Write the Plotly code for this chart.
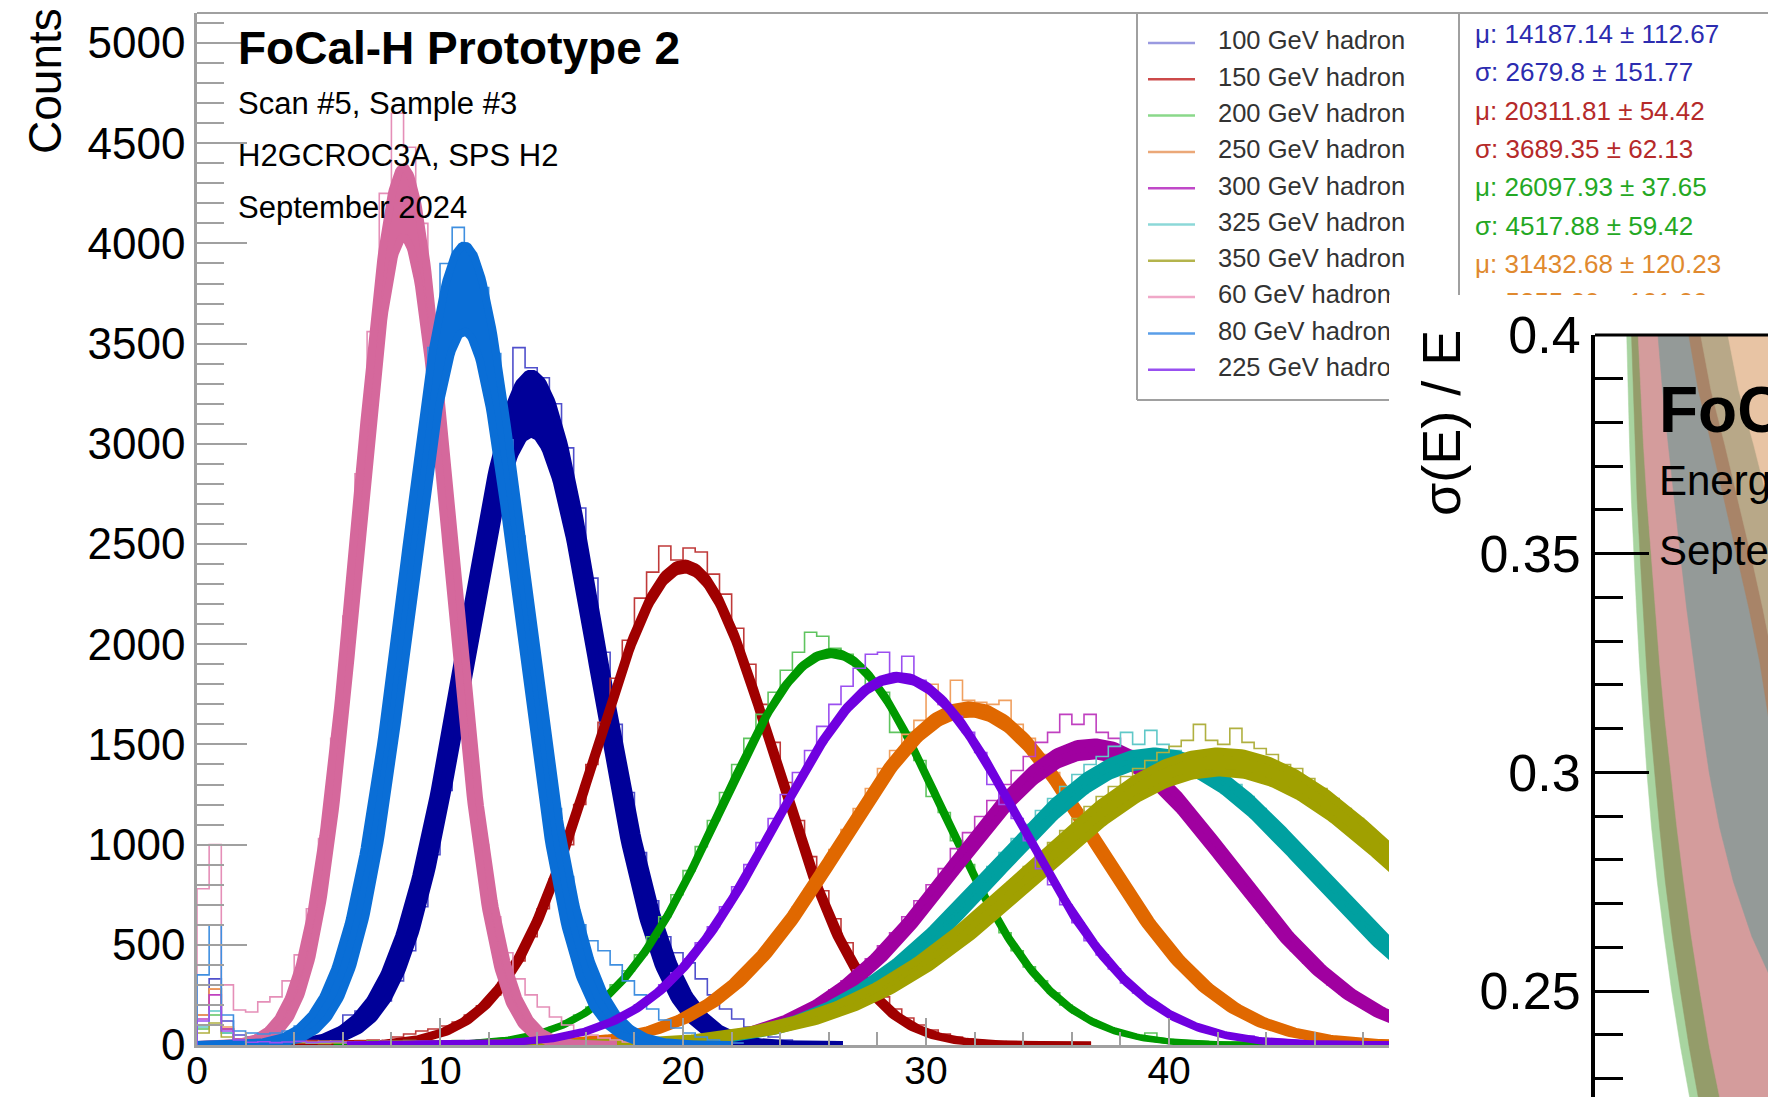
import math
import plotly.graph_objects as go

W, H = 1768, 1097


def px_x(p):
    return p / W


def px_y(p):
    return 1 - p / H


# ------------------------------------------------------------------ data
series_energy = ["100", "150", "200", "250", "300", "325", "350", "60", "80", "225"]
legend_labels = [e + " GeV hadron" for e in series_energy]

# Gaussian fit parameters (x axis in units of 10^3 ADC)
fit_mean = [13.75, 20.05, 26.10, 31.75, 36.85, 39.40, 42.10, 8.50, 11.00, 28.85]
fit_sigma_lo = [2.60, 3.64, 4.50, 5.12, 5.55, 6.40, 7.55, 1.80, 2.20, 4.98]
fit_sigma_hi = [2.85, 3.72, 4.55, 5.28, 5.72, 6.70, 7.90, 1.95, 2.45, 5.04]
fit_amp_lo = [3050, 2370, 1945, 1655, 1445, 1400, 1360, 4030, 3560, 1825]
fit_amp_hi = [3350, 2405, 1965, 1695, 1510, 1465, 1465, 4380, 3990, 1845]

hist_bin_width = 0.5
hist_100 = [200, 330, 120, 50, 40, 35, 30, 35, 30, 40, 45, 60, 150, 170, 160, 220, 320, 470, 690, 950,
            1270, 1620, 2000, 2380, 2760, 3080, 3480, 3380, 3330, 3200, 2980, 2680, 2330, 1960, 1600,
            1260, 960, 720, 540, 460, 410, 330, 250, 180, 130, 90, 60, 40, 25, 15, 10, 5]
hist_150 = [150, 280, 80, 30, 22, 18, 20, 15, 18, 22, 15, 20, 18, 22, 25, 20, 40, 55, 70, 80, 95, 115,
            150, 195, 250, 330, 420, 540, 680, 830, 1000, 1200, 1400, 1610, 1830, 2020, 2230, 2360, 2490,
            2420, 2480, 2460, 2350, 2250, 2080, 1900, 1700, 1510, 1310, 1120, 940, 770, 630, 510, 400,
            310, 240, 180, 135, 100, 75, 55, 40, 30, 20, 15, 12, 10, 8, 6, 5]
hist_200 = [80, 150, 60, 25, 15, 12, 18, 14, 16, 12, 15, 18, 14, 16, 20, 15, 18, 22, 17, 20, 18, 22, 20,
            24, 25, 30, 40, 50, 70, 90, 120, 150, 190, 240, 300, 370, 450, 540, 640, 750, 870, 990, 1120,
            1260, 1400, 1530, 1650, 1760, 1870, 1960, 2060, 2040, 1980, 1950, 1890, 1800, 1760, 1560,
            1560, 1420, 1240, 1160, 1020, 900, 770, 660, 560, 470, 390, 320, 260, 200, 160, 125, 95, 75,
            55, 45, 60, 25, 15, 10, 8, 5, 5]
hist_250 = [150, 280, 90, 30, 15, 13, 17, 12, 16, 14, 18, 12, 15, 17, 13, 16, 14, 18, 15, 12, 16, 14, 17,
            13, 15, 18, 14, 16, 15, 15, 18, 20, 25, 32, 40, 50, 63, 80, 100, 122, 150, 185, 225, 270, 325,
            385, 450, 525, 600, 690, 780, 875, 975, 1075, 1180, 1280, 1380, 1470, 1550, 1620, 1800, 1700,
            1820, 1720, 1710, 1700, 1720, 1600, 1530, 1450, 1360, 1270, 1170, 1070, 970, 870, 780, 690,
            600, 520, 450, 385, 325, 270, 225, 185, 150, 122, 100, 80, 63, 50, 40, 30, 22, 18, 14, 11]
hist_300 = [130, 250, 80, 30, 14, 12, 16, 13, 15, 11, 14, 17, 12, 15, 13, 16, 12, 14, 17, 13, 15, 12, 16,
            14, 13, 17, 12, 15, 14, 16, 13, 15, 12, 16, 14, 15, 15, 15, 18, 20, 25, 30, 38, 45, 58, 72, 90,
            110, 135, 160, 195, 230, 275, 320, 375, 430, 495, 560, 640, 720, 800, 880, 980, 1060, 1140,
            1220, 1300, 1370, 1440, 1510, 1560, 1650, 1600, 1650, 1560, 1530, 1470, 1420, 1370, 1310,
            1240, 1160, 1090, 1010, 930, 850, 770, 690, 610, 540, 470, 410, 355, 300, 255, 215, 180, 150]
hist_325 = [90, 170, 60, 25, 13, 11, 14, 12, 15, 10, 13, 14, 11, 12, 15, 13, 10, 14, 12, 13, 15, 11, 13,
            12, 14, 10, 13, 15, 12, 14, 11, 13, 12, 15, 13, 14, 15, 15, 18, 20, 24, 28, 34, 40, 50, 60, 70,
            85, 100, 120, 140, 165, 195, 225, 260, 300, 345, 390, 440, 495, 555, 615, 680, 750, 820, 890,
            960, 1030, 1100, 1170, 1230, 1290, 1350, 1400, 1440, 1490, 1560, 1500, 1570, 1500, 1470, 1450,
            1420, 1380, 1340, 1300, 1240, 1180, 1110, 1050, 980, 910, 840, 770, 710, 640, 580, 520]
hist_350 = [60, 110, 40, 20, 12, 10, 13, 9, 11, 12, 8, 13, 10, 12, 11, 9, 13, 10, 12, 11, 13, 9, 12, 10,
            14, 11, 12, 13, 10, 12, 14, 11, 13, 12, 14, 15, 16, 18, 22, 25, 30, 35, 40, 48, 56, 65, 76, 88,
            102, 118, 136, 156, 180, 205, 232, 262, 295, 330, 368, 410, 455, 500, 550, 600, 655, 710, 770,
            830, 890, 950, 1010, 1070, 1130, 1190, 1240, 1290, 1340, 1380, 1420, 1460, 1490, 1520, 1600,
            1520, 1500, 1580, 1510, 1480, 1450, 1400, 1380, 1330, 1280, 1230, 1180, 1130, 1070, 1010]
hist_60 = [780, 1000, 300, 175, 165, 215, 240, 320, 450, 680, 1030, 1530, 2140, 2850, 3560, 4250, 4650,
           4480, 4100, 3450, 2750, 2050, 1480, 1000, 640, 460, 330, 250, 190, 140, 100, 70, 50, 35, 25,
           15, 10, 8, 5]
hist_80 = [350, 600, 150, 70, 60, 55, 60, 70, 95, 130, 195, 300, 460, 680, 980, 1380, 1850, 2370, 2930,
           3480, 3900, 4080, 3950, 3780, 3450, 3020, 2540, 2050, 1580, 1180, 840, 600, 520, 470, 400, 320,
           250, 180, 125, 85, 60, 40, 25, 15, 10]
hist_225 = [120, 200, 70, 25, 14, 16, 12, 15, 18, 13, 15, 17, 12, 16, 14, 18, 15, 13, 17, 15, 19, 16, 18,
            15, 20, 18, 20, 25, 30, 40, 50, 65, 80, 100, 130, 160, 200, 245, 300, 360, 430, 510, 590, 690,
            790, 900, 1010, 1130, 1250, 1360, 1470, 1590, 1700, 1790, 1880, 1950, 1960, 1850, 1940, 1820,
            1760, 1700, 1640, 1560, 1460, 1300, 1200, 1130, 1020, 880, 800, 700, 610, 520, 450, 380, 310,
            260, 215, 175, 140, 110, 85, 65, 55, 40, 45, 20, 15, 12, 9, 7, 5, 4]

stat_lines = ["μ: 14187.14 ± 112.67", "σ: 2679.8 ± 151.77", "μ: 20311.81 ± 54.42",
              "σ: 3689.35 ± 62.13", "μ: 26097.93 ± 37.65", "σ: 4517.88 ± 59.42",
              "μ: 31432.68 ± 120.23", "σ: 5255.20 ± 101.00"]

x_tick_vals = [0, 10, 20, 30, 40]
y_tick_vals = [0, 500, 1000, 1500, 2000, 2500, 3000, 3500, 4000, 4500, 5000]

# inset: resolution bands, left-edge energies (GeV) of each coloured region at given sigma(E)/E levels
inset_levels = [0.405, 0.3875, 0.375, 0.3625, 0.35, 0.3375, 0.325, 0.3125, 0.30, 0.2875, 0.275,
                0.2625, 0.25, 0.2375, 0.22]
band_edge_green = [55.4, 55.7, 56.0, 56.3, 56.7, 57.2, 57.7, 58.3, 59.0, 59.8, 60.8, 62.0, 63.3, 64.8, 67.2]
band_edge_olive = [56.2, 56.6, 56.9, 57.3, 57.8, 58.3, 58.9, 59.5, 60.3, 61.2, 62.2, 63.4, 64.8, 66.3, 68.7]
band_edge_pink = [57.3, 57.9, 58.4, 59.0, 59.7, 60.4, 61.2, 62.1, 63.1, 64.2, 65.4, 66.7, 68.2, 69.8, 72.5]
band_edge_gray = [60.6, 61.7, 62.7, 63.7, 64.8, 65.9, 67.1, 68.4, 69.8, 71.6, 74.0, 77.2, 81.5, 87.0, 95.0]
band_edge_brown = [65.6, 67.9, 70.2, 72.4, 74.6, 76.7, 78.6, 80.2, 81.6, 83.5, 85.8, 88.4, 91.2, 94.2, 98.2]
band_edge_khaki = [67.6, 70.1, 72.5, 74.8, 77.0, 79.1, 81.1, 82.9, 84.5, 86.5, 88.8, 91.3, 94.0, 96.9, 100.8]
band_edge_peach = [72.3, 74.9, 77.5, 80.0, 82.4, 84.8, 87.1, 88.9, 90.5, 92.6, 94.9, 97.4, 100.1, 103.0, 106.9]

# ------------------------------------------------------------------ styles
fit_colors = ["#000099", "#a00000", "#009900", "#e06800", "#a000a0", "#00a0a0", "#a0a000",
              "#d5689c", "#0a6ed6", "#7000e0"]
hist_colors = ["#5050cc", "#c03a3a", "#5fc45f", "#f0a060", "#c040c0", "#60c8c8", "#b0b040",
               "#e58fb8", "#3f8fe0", "#9b4ff0"]
legend_colors = ["#9a9ae0", "#cc4a4a", "#8ad88a", "#eba878", "#c048c8", "#8cd8d8", "#b4b44c",
                 "#f0a8c8", "#5a9ee8", "#9850f0"]
fit_widths = [8, 7, 6, 8, 8, 8, 8, 8, 8, 7]
stat_colors = ["#2c2cb0", "#2c2cb0", "#b52a2a", "#b52a2a", "#24a824", "#24a824", "#e0892e", "#e0892e"]
band_colors = ["#a8d4a0", "#949c6a", "#d49c9c", "#949a98", "#a88468", "#b8a888", "#e8c4a4"]

FONT = "Liberation Sans, Arial, Helvetica, sans-serif"
FRAME = "#a0a0a0"
X_MAX = 49.05

hists = [hist_100, hist_150, hist_200, hist_250, hist_300, hist_325, hist_350, hist_60, hist_80, hist_225]

fig = go.Figure()

# ------------------------------------------------------------------ main histograms + fits
for i in range(len(series_energy)):
    vals = hists[i]
    xs = [0.0] + [k * hist_bin_width for k in range(len(vals) + 1)]
    ys = [0] + list(vals) + [vals[-1]]
    fig.add_trace(go.Scatter(x=xs, y=ys, mode="lines", line=dict(color=hist_colors[i], width=1.6, shape="hv"),
                             xaxis="x", yaxis="y", hoverinfo="skip"))
    mu = fit_mean[i]
    s_hi = fit_sigma_hi[i]
    x0 = max(0.0, mu - 4.5 * s_hi)
    x1 = min(X_MAX + 0.5, mu + 4.5 * s_hi)
    n = 400
    grid = [x0 + (x1 - x0) * j / (n - 1) for j in range(n)]
    ylo = [fit_amp_lo[i] * math.exp(-0.5 * ((g - mu) / fit_sigma_lo[i]) ** 2) for g in grid]
    yhi = [fit_amp_hi[i] * math.exp(-0.5 * ((g - mu) / s_hi) ** 2) for g in grid]
    fig.add_trace(go.Scatter(x=grid, y=ylo, mode="lines", line=dict(color=fit_colors[i], width=fit_widths[i]),
                             xaxis="x", yaxis="y", hoverinfo="skip"))
    fig.add_trace(go.Scatter(x=grid, y=yhi, mode="lines", line=dict(color=fit_colors[i], width=fit_widths[i]),
                             fill="tonexty", fillcolor=fit_colors[i], xaxis="x", yaxis="y", hoverinfo="skip"))

# ------------------------------------------------------------------ legend + stats (clipped text areas)
LEG_X0, LEG_X1, LEG_TX = 1148, 1195, 1218
LEG_Y0, LEG_DY = 43, 36.3
STAT_X, STAT_Y0, STAT_DY = 1475, 36.5, 38.3

for ax_x, ax_y in (("x2", "y2"), ("x3", "y3")):
    for i, lab in enumerate(legend_labels):
        yy = LEG_Y0 + LEG_DY * i
        fig.add_trace(go.Scatter(x=[LEG_X0, LEG_X1], y=[yy, yy], mode="lines",
                                 line=dict(color=legend_colors[i], width=2.5),
                                 xaxis=ax_x, yaxis=ax_y, hoverinfo="skip"))
        fig.add_trace(go.Scatter(x=[LEG_TX], y=[yy], mode="text", text=[lab], textposition="middle right",
                                 textfont=dict(family=FONT, size=25.5, color="#333333"), cliponaxis=True,
                                 xaxis=ax_x, yaxis=ax_y, hoverinfo="skip"))

fig.add_trace(go.Scatter(x=[STAT_X] * len(stat_lines), y=[STAT_Y0 + STAT_DY * i for i in range(len(stat_lines))],
                         mode="text", text=stat_lines, textposition="middle right",
                         textfont=dict(family=FONT, size=26, color=stat_colors), cliponaxis=True,
                         xaxis="x2", yaxis="y2", hoverinfo="skip"))

# ------------------------------------------------------------------ inset bands (drawn left to right, each covering to the far right)
edges = [band_edge_green, band_edge_olive, band_edge_pink, band_edge_gray, band_edge_brown,
         band_edge_khaki, band_edge_peach]
for b, edge in enumerate(edges):
    px_ = list(edge) + [200, 200, edge[0]]
    py_ = list(inset_levels) + [inset_levels[-1], inset_levels[0], inset_levels[0]]
    fig.add_trace(go.Scatter(x=px_, y=py_, mode="lines", fill="toself", fillcolor=band_colors[b],
                             line=dict(color=band_colors[b], width=0.5),
                             xaxis="x4", yaxis="y4", hoverinfo="skip"))

# ------------------------------------------------------------------ layout
hidden = dict(visible=False, showgrid=False, zeroline=False, fixedrange=True, automargin=False)
fig.update_layout(
    width=W, height=H, margin=dict(l=0, r=0, t=0, b=0, pad=0, autoexpand=False),
    paper_bgcolor="white", plot_bgcolor="rgba(0,0,0,0)", showlegend=False, hovermode=False,
    xaxis=dict(domain=[px_x(197), px_x(1389)], range=[0, X_MAX], showline=True, linecolor=FRAME, linewidth=2.5,
               ticks="inside", ticklen=27, tickwidth=2, tickcolor=FRAME, tickvals=x_tick_vals,
               minor=dict(dtick=2, tick0=0, ticks="inside", ticklen=13, tickwidth=1.5, tickcolor=FRAME),
               showgrid=False, zeroline=False, tickfont=dict(family=FONT, size=39, color="black"),
               ticklabelstandoff=-11, anchor="y", automargin=False, fixedrange=True),
    yaxis=dict(domain=[px_y(1045), px_y(13)], range=[0, 5150], showline=True, linecolor=FRAME, linewidth=2.5,
               ticks="inside", ticklen=50, tickwidth=2, tickcolor=FRAME, tickvals=y_tick_vals,
               minor=dict(dtick=100, tick0=0, ticks="inside", ticklen=27, tickwidth=1.5, tickcolor=FRAME),
               showgrid=False, zeroline=False, tickfont=dict(family=FONT, size=44, color="black"),
               anchor="x", automargin=False, fixedrange=True),
    xaxis2=dict(domain=[px_x(1137), 1], range=[1137, 1768], anchor="y2", **hidden),
    yaxis2=dict(domain=[px_y(295), px_y(13)], range=[295, 13], anchor="x2", **hidden),
    xaxis3=dict(domain=[px_x(1137), px_x(1389)], range=[1137, 1389], anchor="y3", **hidden),
    yaxis3=dict(domain=[px_y(400), px_y(295)], range=[400, 295], anchor="x3", **hidden),
    xaxis4=dict(domain=[px_x(1595), 1], range=[50, 80], anchor="y4", **hidden),
    yaxis4=dict(domain=[0, px_y(335)], range=[0.2258, 0.4], anchor="x4", side="left", showline=True,
                linecolor="black", linewidth=4, ticks="inside", ticklen=54, tickwidth=3, tickcolor="black",
                tickvals=[0.25, 0.3, 0.35, 0.4], ticktext=["0.25", "0.3", "0.35", "0.4"],
                minor=dict(dtick=0.01, tick0=0, ticks="inside", ticklen=28, tickwidth=2.5, tickcolor="black"),
                showgrid=False, zeroline=False, tickfont=dict(family=FONT, size=52, color="black"),
                fixedrange=True, automargin=False),
)

shapes = []


def seg(xa, ya, xb, yb, color=FRAME, width=2):
    shapes.append(dict(type="line", xref="paper", yref="paper", x0=px_x(xa), y0=px_y(ya), x1=px_x(xb),
                       y1=px_y(yb), line=dict(color=color, width=width), layer="above"))


seg(197, 13, 1768, 13)          # top frame
seg(1137, 13, 1137, 400)        # legend box left
seg(1137, 400, 1389, 400)       # legend box bottom
seg(1459, 13, 1459, 295)        # legend box right / stats left
seg(1595, 335, 1768, 335, color="black", width=3)   # inset top frame
fig.update_layout(shapes=shapes)

ann = []


def text(x, y, s, size, bold=False, xanchor="left", angle=0, color="black"):
    ann.append(dict(xref="paper", yref="paper", x=px_x(x), y=px_y(y), text=("<b>%s</b>" % s) if bold else s,
                    showarrow=False, xanchor=xanchor, yanchor="middle", textangle=angle,
                    font=dict(family=FONT, size=size, color=color)))


text(236, 48, "FoCal-H Prototype 2", 46, bold=True)
text(236, 104, "Scan #5, Sample #3", 31)
text(236, 156, "H2GCROC3A, SPS H2", 31)
text(236, 207, "September 2024", 31)
text(45, 81, "Counts", 46, xanchor="center", angle=-90)
text(1441, 423, "σ(E) / E", 54, xanchor="center", angle=-90)
text(1657, 410, "FoCal-H Prototype 2", 64, bold=True)
text(1657, 481, "Energy resolution", 42)
text(1657, 550, "September 2024", 42)
fig.update_layout(annotations=ann)

fig.write_html("out.html")
